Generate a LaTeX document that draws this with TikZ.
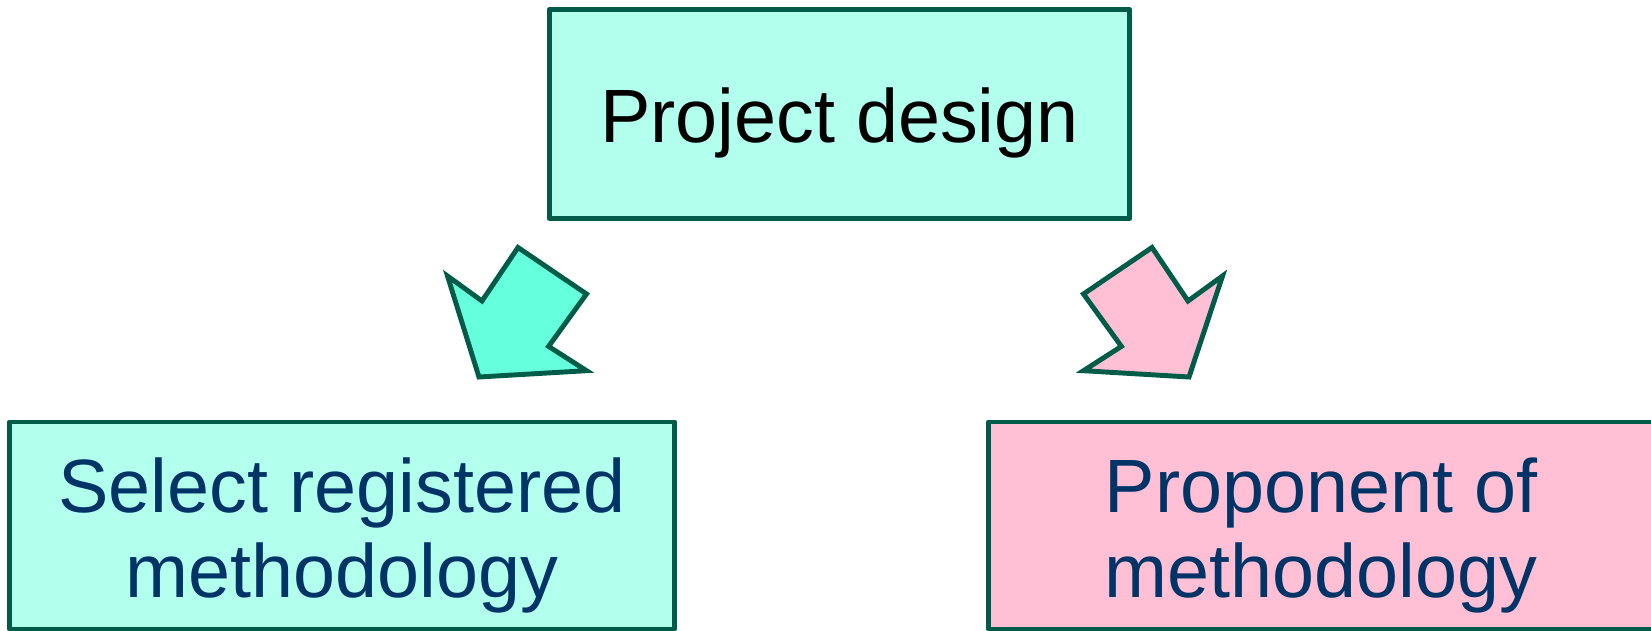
\documentclass[tikz,border=0pt]{standalone}
\usepackage{fontspec}
\setmainfont{Liberation Sans}
\definecolor{edgegreen}{HTML}{005C48}
\definecolor{paleaqua}{HTML}{B3FFEE}
\definecolor{brightaqua}{HTML}{66FFDD}
\definecolor{softpink}{HTML}{FFC0D6}
\definecolor{navytext}{HTML}{003366}
\tikzset{
  stagebox/.style={draw=edgegreen, line width=2.8pt, line join=round, rectangle,
                   inner sep=0pt, align=center, font=\fontsize{43}{48.5}\selectfont,
                   text depth=9pt},
  blockarrow/.style={draw=edgegreen, line width=2.8pt}
}
\begin{document}
\begin{tikzpicture}[x=0.02cm, y=-0.02cm]
  \useasboundingbox (0,0) rectangle (1651,631);
  \node[stagebox, fill=paleaqua, text height=41pt, minimum width=11.62cm, minimum height=4.17cm]
        (design) at (839.5,114) {Project design};
  \node[stagebox, fill=paleaqua, text=navytext, text height=91pt,
        minimum width=13.31cm, minimum height=4.14cm]
        (select) at (342,525.5) {Select registered\\methodology};
  \node[stagebox, fill=softpink, text=navytext, text height=91pt,
        minimum width=13.31cm, minimum height=4.14cm]
        (proponent) at (1321,525.5) {Proponent of\\methodology};
  % the two block arrows
  \draw[blockarrow, fill=brightaqua] (447.5,276) -- (482,301) -- (518,247.5) -- (586.5,294)
        -- (548.6,346.4) -- (586.5,370.7) -- (479,377) -- cycle;
  \draw[blockarrow, fill=softpink] (1222.5,276) -- (1188,301) -- (1152,247.5) -- (1083.5,294)
        -- (1121.4,346.4) -- (1083.5,370.7) -- (1189,377) -- cycle;
\end{tikzpicture}
\end{document}
